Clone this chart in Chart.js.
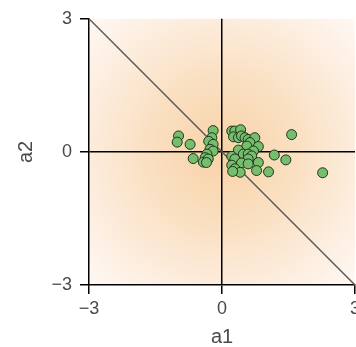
<!DOCTYPE html>
<html>
<head>
<meta charset="utf-8">
<script src="https://cdn.jsdelivr.net/npm/chart.js@4"></script>
<style>
  html, body { margin: 0; padding: 0; background: #fff; overflow: hidden; }
  #wrap { width: 370px; height: 347px; }
</style>
</head>
<body>
<div id="wrap"><canvas id="chart" width="370" height="347"></canvas></div>
<script>
// points (a1, a2)
const a1Values = [
    -0.98, -1.01, -0.72, -0.20, -0.23, -0.30, -0.20, -0.27, -0.20, -0.34,
    -0.38, -0.65, -0.42, -0.31, -0.35,
    0.22, 0.29, 0.42, 0.26, 0.37, 0.44, 0.52, 0.59, 0.74, 0.63,
    0.56, 0.82, 0.37, 0.71, 0.48, 0.59, 0.67, 0.26, 0.22, 0.29,
    0.59, 0.44, 0.59, 0.82, 0.22, 0.29, 0.41, 0.24, 0.78, 1.05,
    1.18, 1.44, 1.57, 2.27
];
const a2Values = [
    0.36, 0.22, 0.17, 0.48, 0.32, 0.24, 0.17, 0.06, 0.02, -0.05,
    -0.13, -0.15, -0.23, -0.16, -0.24,
    0.47, 0.47, 0.50, 0.34, 0.32, 0.36, 0.32, 0.28, 0.32, 0.21,
    0.13, 0.12, 0.04, 0.02, -0.05, -0.05, -0.09, -0.16, -0.10, -0.16,
    -0.16, -0.25, -0.27, -0.24, -0.30, -0.38, -0.46, -0.44, -0.42, -0.45,
    -0.07, -0.18, 0.39, -0.47
];
const axisTicks = [-3, 0, 3];
const diagonal = [[-3, 3], [3, -3]];

const textColor = '#4a4a4a';
const fontFamily = '"Liberation Sans", Arial, sans-serif';

function fmt(v) {
    return v < 0 ? '\u2212' + Math.abs(v) : String(v);
}

const glow = {
    id: 'glow',
    beforeDraw(chart) {
        const {ctx, chartArea, scales} = chart;
        const cx = scales.x.getPixelForValue(0);
        const cy = scales.y.getPixelForValue(0);
        const g = ctx.createRadialGradient(cx, cy, 0, cx, cy, 215);
        g.addColorStop(0, 'rgb(248,210,166)');
        g.addColorStop(0.35, 'rgb(250,224,194)');
        g.addColorStop(0.7, 'rgb(253,240,228)');
        g.addColorStop(1, 'rgb(255,255,255)');
        ctx.save();
        ctx.fillStyle = g;
        ctx.fillRect(chartArea.left, chartArea.top, chartArea.right - chartArea.left, chartArea.bottom - chartArea.top);
        ctx.restore();
    }
};

function zeroGrid(c) {
    return c.tick && c.tick.value === 0 ? '#000' : 'rgba(0,0,0,0)';
}

new Chart(document.getElementById('chart'), {
    type: 'scatter',
    data: {
        datasets: [
            {
                type: 'line',
                data: diagonal.map(p => ({x: p[0], y: p[1]})),
                borderColor: '#5a5a5a',
                borderWidth: 1.5,
                pointRadius: 0,
                order: 2
            },
            {
                data: a1Values.map((v, i) => ({x: v, y: a2Values[i]})),
                backgroundColor: 'rgb(118,190,110)',
                borderColor: 'rgba(25,45,25,0.95)',
                borderWidth: 1,
                pointRadius: 5,
                order: 1
            }
        ]
    },
    options: {
        responsive: false,
        animation: false,
        layout: { padding: { top: 15, right: 15, left: 0, bottom: 0 } },
        plugins: { legend: { display: false }, tooltip: { enabled: false } },
        scales: {
            x: {
                min: -3, max: 3,
                afterBuildTicks: s => { s.ticks = axisTicks.map(v => ({value: v})); },
                afterFit: s => { s.height = 62; },
                ticks: { callback: fmt, color: textColor, padding: 4, maxRotation: 0,
                    font: { family: fontFamily, size: 18 } },
                grid: { color: zeroGrid, lineWidth: 1.5, tickColor: '#000', tickLength: 9, tickWidth: 1.5 },
                border: { color: '#000', width: 1.5 },
                title: { display: true, text: 'a1', color: textColor, padding: { top: 0, bottom: 0 },
                    font: { family: fontFamily, size: 20, lineHeight: 1 } }
            },
            y: {
                min: -3, max: 3,
                afterBuildTicks: s => { s.ticks = axisTicks.map(v => ({value: v})); },
                afterFit: s => { s.width = 89; },
                ticks: { callback: fmt, color: textColor, padding: 8,
                    font: { family: fontFamily, size: 18 } },
                grid: { color: zeroGrid, lineWidth: 1.5, tickColor: '#000', tickLength: 9, tickWidth: 1.5 },
                border: { color: '#000', width: 1.5 },
                title: { display: true, text: 'a2', color: textColor, padding: { top: 16, bottom: 0 },
                    font: { family: fontFamily, size: 20, lineHeight: 1 } }
            }
        }
    },
    plugins: [glow]
});
</script>
</body>
</html>
